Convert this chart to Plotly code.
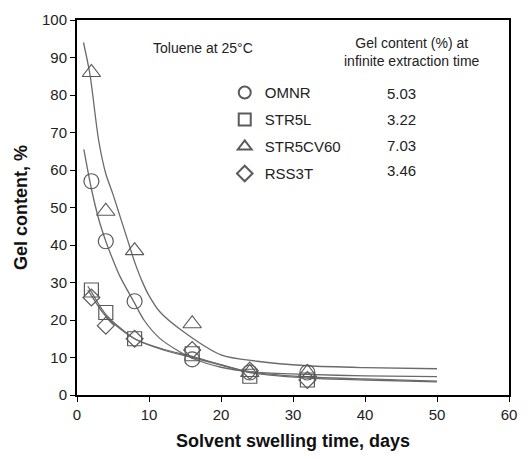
import plotly.graph_objects as go

# measured data (days, gel %)
t_data = [2, 4, 8, 16, 24, 32]
omnr = [57, 41, 25, 9.5, 6, 6]
str5l = [28, 22, 15, 11, 5, 4]
str5cv60 = [86, 49, 38.5, 19, 6, 6]
rss3t = [26, 18.5, 15, 12, 6.5, 4]

# fitted curves
omnr_fit_t = [0.95, 2, 3, 4, 5, 6, 8, 9.3, 11.5, 14.2, 16, 20, 24, 32, 40, 50]
omnr_fit_y = [65.5, 55, 47, 41, 36, 31.5, 24.5, 20, 15.1, 11.6, 9.8, 7.4, 6.2, 5.5, 5.1, 4.9]
str5cv60_fit_t = [0.9, 1.8, 3, 4, 5, 6, 7, 8, 9, 10, 11.5, 14.7, 20, 25, 32, 40, 50]
str5cv60_fit_y = [94, 85.5, 68, 59, 53.5, 47.5, 41.5, 35.5, 30.5, 26.5, 22.2, 17, 10.7, 9, 7.8, 7.3, 7.0]
str5l_fit_t = [1.5, 2, 4, 8, 12, 16, 20, 24, 32, 40, 50]
str5l_fit_y = [29, 27.5, 21.5, 15, 12, 10, 8, 6, 4.5, 4.0, 3.5]
rss3t_fit_t = [1.5, 2, 4, 8, 12, 16, 20, 24, 32, 40, 50]
rss3t_fit_y = [28, 26.5, 21, 15, 12.2, 10.3, 8.1, 6.2, 4.8, 4.3, 3.7]

names = ["OMNR", "STR5L", "STR5CV60", "RSS3T"]
inf_values = ["5.03", "3.22", "7.03", "3.46"]
symbols = ["circle-open", "square-open", "triangle-up-open", "diamond-open"]
sizes = [15, 14, 16, 13]

LINE = "#6a6a6a"
MARK = "#5a5a5a"
FONT = "Liberation Sans, Arial, sans-serif"

fig = go.Figure()

fits = [(omnr_fit_t, omnr_fit_y), (str5l_fit_t, str5l_fit_y),
        (str5cv60_fit_t, str5cv60_fit_y), (rss3t_fit_t, rss3t_fit_y)]
for (ft, fy) in fits:
    fig.add_trace(go.Scatter(x=ft, y=fy, mode="lines",
                             line=dict(color=LINE, width=1.3, shape="spline", smoothing=0.8),
                             showlegend=False, hoverinfo="skip"))

for i, (nm, ys) in enumerate(zip(names, [omnr, str5l, str5cv60, rss3t])):
    fig.add_trace(go.Scatter(x=t_data, y=ys, mode="markers", name=nm,
                             legendgroup=nm,
                             marker=dict(symbol=symbols[i], size=sizes[i],
                                         color=MARK, line=dict(color=MARK, width=1.2))))

fig.update_layout(
    width=528, height=459,
    margin=dict(l=77, r=11, t=20, b=62),
    paper_bgcolor="white", plot_bgcolor="white",
    font=dict(family=FONT, color="#222"),
    showlegend=True,
    legend=dict(x=0.342, y=0.85, xanchor="left", yanchor="top",
                font=dict(size=15, family=FONT, color="#222"),
                bgcolor="rgba(0,0,0,0)", tracegroupgap=4.5,
                itemsizing="constant"),
    xaxis=dict(range=[0, 60], dtick=10, showgrid=False, zeroline=False,
               showline=True, linecolor="black", linewidth=2, mirror=True,
               ticks="outside", ticklen=5, tickcolor="black",
               tickfont=dict(size=15, color="#222"),
               title=dict(text="<b>Solvent swelling time, days</b>",
                          font=dict(size=18, color="#111"), standoff=12)),
    yaxis=dict(range=[0, 100], dtick=10, showgrid=False, zeroline=False,
               showline=True, linecolor="black", linewidth=2, mirror=True,
               ticks="outside", ticklen=5, tickcolor="black",
               tickfont=dict(size=15, color="#222"),
               title=dict(text="<b>Gel content, %</b>",
                          font=dict(size=18, color="#111"), standoff=10)),
)

annots = [
    dict(text="Toluene at 25°C", x=152, y=48, size=14),
    dict(text="Gel content (%) at<br>infinite extraction time", x=418, y=52, size=14),
]
for a in annots:
    fig.add_annotation(text=a["text"], xref="paper", yref="paper",
                       x=(a["x"] - 77) / 440, y=(397 - a["y"]) / 377,
                       xanchor="left" if a["text"].startswith("Tol") else "center",
                       yanchor="middle", showarrow=False,
                       font=dict(size=a["size"], family=FONT, color="#222"))

rows_y = [94, 120, 146, 171]
for v, ry in zip(inf_values, rows_y):
    fig.add_annotation(text=v, xref="paper", yref="paper",
                       x=(391 - 77) / 440, y=(397 - ry) / 377,
                       xanchor="left", yanchor="middle", showarrow=False,
                       font=dict(size=15, family=FONT, color="#222"))

fig.write_html("out.html")
